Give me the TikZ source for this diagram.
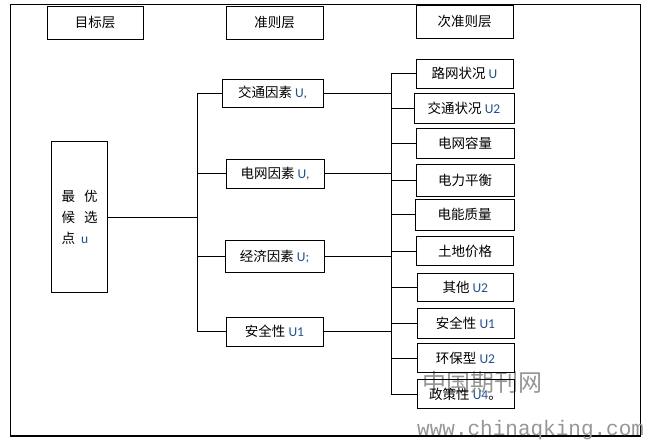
\documentclass[tikz,border=0pt]{standalone}
\usepackage{fontspec}
\setmainfont{Noto Sans CJK SC}
\newfontfamily\lat{Carlito}
\newfontfamily\wmono{Liberation Mono}
\definecolor{ublue}{RGB}{31,78,160}
\definecolor{wmgray}{RGB}{150,150,150}
\newcommand{\uu}[1]{{\lat\color{ublue}#1}}
\begin{document}
\begin{tikzpicture}[x=1pt,y=-1pt,
  box/.style={draw, line width=0.9pt, inner sep=0pt, font=\fontsize{13.5}{16}\selectfont},
  link/.style={line width=1pt},
  frame/.style={line width=1.2pt},
  wm/.style={text=wmgray, inner sep=0pt}]
\useasboundingbox (0,0) rectangle (648,442);
\draw[frame] (10.5,4.5) rectangle (640.5,436);

% watermark
\node[wm, font=\fontsize{24}{24}\selectfont] (wm1) at (482,382) {中国期刊网};
\node[wm, font=\wmono\fontsize{21}{21}\selectfont, anchor=west] (wm2) at (417,430) {www.chinaqking.com};

% headers
\node[box, minimum width=96pt, minimum height=33pt] (h1) at (95,22.5) {目标层};
\node[box, minimum width=97pt, minimum height=33pt] (h2) at (274.5,22.5) {准则层};
\node[box, minimum width=97pt, minimum height=33pt] (h3) at (464.5,21.5) {次准则层};

% goal
\node[box, minimum width=56pt, minimum height=151pt, align=left,
      font=\fontsize{13.5}{20.7}\selectfont] (g) at (79.7,217.3)
  {最\hspace{9pt}优\\候\hspace{9pt}选\\点\hspace{6pt}\uu{u}};

% criteria
\node[box, minimum width=101pt, minimum height=28pt] (c1) at (272.5,93) {交通因素 \uu{U,}};
\node[box, minimum width=98pt, minimum height=29pt] (c2) at (275,173.5) {电网因素 \uu{U,}};
\node[box, minimum width=99pt, minimum height=32pt] (c3) at (274.5,256.5) {经济因素 \uu{U;}};
\node[box, minimum width=97pt, minimum height=29pt] (c4) at (274.5,331.5) {安全性 \uu{U1}};

% sub-criteria
\node[box, minimum width=97pt, minimum height=29pt] (s1) at (464.5,73.5) {路网状况 \uu{U}};
\node[box, minimum width=100pt, minimum height=30pt] (s2) at (464,108) {交通状况 \uu{U2}};
\node[box, minimum width=98pt, minimum height=30.6pt] (s3) at (465,143.5) {电网容量};
\node[box, minimum width=98pt, minimum height=32pt] (s4) at (465,180.5) {电力平衡};
\node[box, minimum width=99pt, minimum height=31pt] (s5) at (464.5,214.5) {电能质量};
\node[box, minimum width=97pt, minimum height=28.3pt] (s6) at (465,251) {土地价格};
\node[box, minimum width=96pt, minimum height=28pt] (s7) at (465.3,287.5) {其他 \uu{U2}};
\node[box, minimum width=97pt, minimum height=29.6pt] (s8) at (465.5,323.5) {安全性 \uu{U1}};
\node[box, minimum width=97pt, minimum height=28.4pt] (s9) at (465.5,358) {环保型 \uu{U2}};
\node[box, minimum width=97pt, minimum height=29.3pt] (s10) at (465.5,394) {政策性 \uu{U4}。};

% trunks
\coordinate (t1top) at (197,93);
\coordinate (t1bot) at (197,331.5);
\coordinate (t2top) at (391,73.5);
\coordinate (t2bot) at (391,394);
\draw[link] (t1top) -- (t1bot);
\draw[link] (t2top) -- (t2bot);

% goal to trunk 1
\draw[link] (g.east) -- (g.east -| t1top);
% trunk 1 to criteria
\foreach \c in {c1,c2,c3,c4} {
  \draw[link] (\c.west -| t1top) -- (\c.west);
  \draw[link] (\c.east) -- (\c.east -| t2top);
}
% trunk 2 to sub-criteria
\foreach \s in {s1,s2,s3,s4,s5,s6,s7,s8,s9,s10} {
  \draw[link] (\s.west -| t2top) -- (\s.west);
}
\end{tikzpicture}
\end{document}
